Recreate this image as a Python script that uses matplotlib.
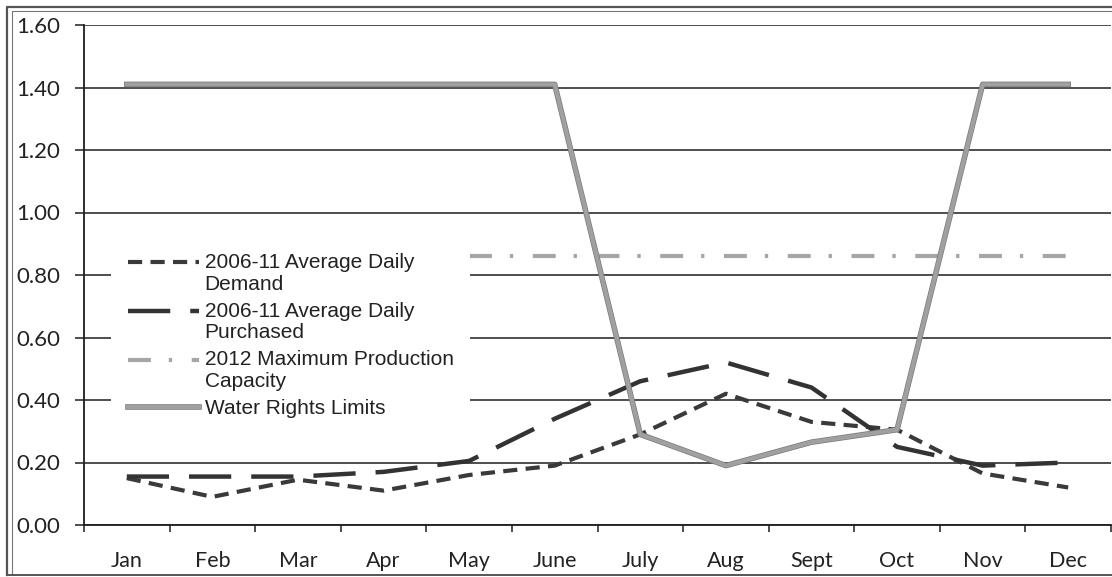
import numpy as np
import matplotlib
matplotlib.use("Agg")
import matplotlib.pyplot as plt
import matplotlib.patheffects as pe
from matplotlib.lines import Line2D
from matplotlib.legend_handler import HandlerLine2D

months = ['Jan', 'Feb', 'Mar', 'Apr', 'May', 'June', 'July', 'Aug', 'Sept', 'Oct', 'Nov', 'Dec']
demand = [0.15, 0.09, 0.145, 0.11, 0.16, 0.19, 0.29, 0.42, 0.33, 0.305, 0.165, 0.12]
purchased = [0.155, 0.155, 0.155, 0.17, 0.205, 0.34, 0.46, 0.52, 0.44, 0.25, 0.19, 0.20]
max_capacity = [np.nan, np.nan, np.nan, np.nan, 0.86, 0.86, 0.86, 0.86, 0.86, 0.86, 0.86, 0.86]
water_rights = [1.41, 1.41, 1.41, 1.41, 1.41, 1.41, 0.29, 0.19, 0.265, 0.305, 1.41, 1.41]
labels = ["2006-11 Average Daily\nDemand", "2006-11 Average Daily\nPurchased",
          "2012 Maximum Production\nCapacity", "Water Rights Limits"]
yticks = [0.0, 0.2, 0.4, 0.6, 0.8, 1.0, 1.2, 1.4, 1.6]

W, H = 1112, 577
fig = plt.figure(figsize=(W / 100, H / 100), dpi=100)
ax = fig.add_axes([84 / W, (H - 525) / H, 1027 / W, 500 / H])

x = np.arange(len(months))
l1, = ax.plot(x, demand, color='#3a3a3a', lw=3.0, dashes=(3.4, 2.0), label=labels[0], zorder=3)
l2, = ax.plot(x, purchased, color='#333333', lw=3.2, dashes=(9.5, 4.5), label=labels[1], zorder=3)
l3, = ax.plot(x, max_capacity, color='#a6a6a6', lw=3.0, dashes=(5.5, 4.3, 0.8, 4.7), label=labels[2], zorder=3)
l4, = ax.plot(x, water_rights, color='#a0a0a0', lw=3.0, label=labels[3], zorder=3,
              path_effects=[pe.Stroke(linewidth=4.0, foreground='#7a7a7a'), pe.Normal()])

ax.set_xlim(-0.5, len(months) - 0.5)
ax.set_ylim(0, 1.6)
ax.set_yticks(yticks)
ax.set_yticklabels([f"{v:.2f}" for v in yticks])
ax.set_xticks(x)
ax.set_xticklabels(months)
ax.set_xticks(np.arange(len(months) + 1) - 0.5, minor=True)

ax.grid(axis='y', color='#1e1e1e', lw=1.1, zorder=1)
ax.set_axisbelow(True)
for s in ['top', 'right']:
    ax.spines[s].set_visible(False)
for s in ['left', 'bottom']:
    ax.spines[s].set_color('#1e1e1e')
    ax.spines[s].set_linewidth(1.3)

ax.tick_params(axis='y', which='major', length=6.5, width=1.1, color='#1e1e1e', pad=10.5,
               labelsize=16, labelcolor='#222222')
ax.tick_params(axis='x', which='major', length=0, pad=19, labelsize=15.5, labelcolor='#222222')
ax.tick_params(axis='x', which='minor', length=5, width=1.1, color='#1e1e1e')
for lab in ax.get_xticklabels() + ax.get_yticklabels():
    lab.set_fontfamily('Lato')


class ShiftHandler(HandlerLine2D):
    def __init__(self, shift=0.0, **kw):
        super().__init__(**kw)
        self.shift = shift

    def create_artists(self, legend, orig_handle, xdescent, ydescent, width, height, fontsize, trans):
        arts = super().create_artists(legend, orig_handle, xdescent, ydescent, width, height, fontsize, trans)
        for a in arts:
            a.set_ydata(np.asarray(a.get_ydata(), dtype=float) + self.shift)
        return arts


up = ShiftHandler(shift=8.1)
leg = ax.legend(handles=[l1, l2, l3, l4], loc='upper left', bbox_to_anchor=(0.0267, 0.577),
                frameon=True, facecolor='white', edgecolor='none', framealpha=1.0, fancybox=False,
                borderpad=0.8, borderaxespad=0, handlelength=3.4, handletextpad=0.27,
                labelspacing=0.38, prop={'family': 'Liberation Sans', 'size': 15},
                handler_map={l1: up, l2: up, l3: up, l4: HandlerLine2D()})
leg.set_zorder(6)
for t in leg.get_texts():
    t.set_color('#222222')
    t.set_linespacing(1.18)

# outer frame of the picture
fig.add_artist(Line2D([7 / W, 7 / W, 1.01], [2 / H, 1 - 7 / H, 1 - 7 / H],
                      transform=fig.transFigure, color='#555555', lw=1.6))
fig.add_artist(Line2D([12 / W, 12 / W, 1.01], [2 / H, 1 - 10.5 / H, 1 - 10.5 / H],
                      transform=fig.transFigure, color='#777777', lw=0.8))
fig.add_artist(Line2D([7 / W, 1.01], [2.5 / H, 2.5 / H],
                      transform=fig.transFigure, color='#555555', lw=1.4))

fig.savefig('out.png', dpi=100)
